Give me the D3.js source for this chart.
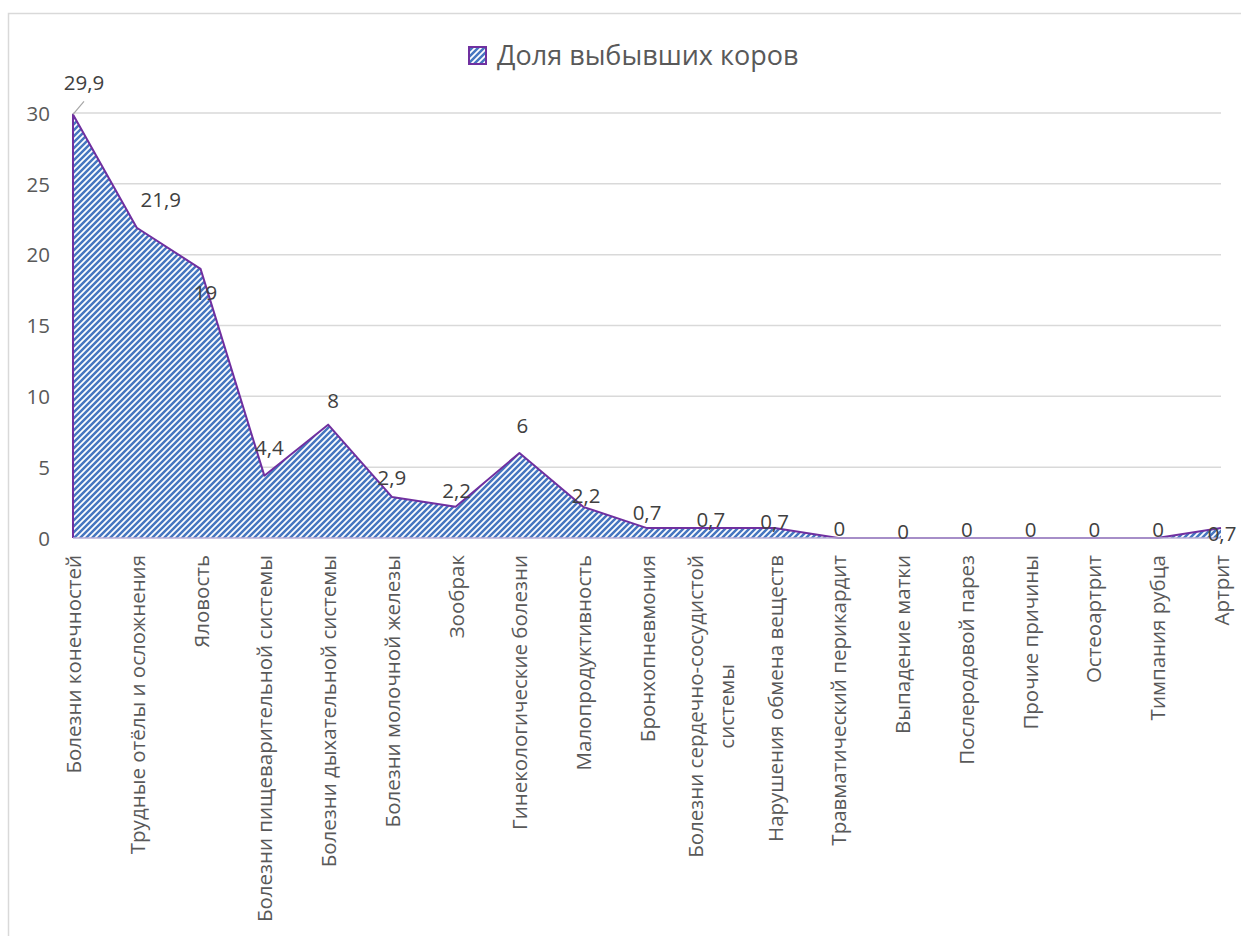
<!DOCTYPE html>
<html lang="ru">
<head>
<meta charset="utf-8">
<script src="https://cdn.jsdelivr.net/npm/d3@7"></script>
<style>
  html, body { margin: 0; padding: 0; background: #fff; }
  svg { display: block; font-family: "Open Sans", "Noto Sans", sans-serif; }
</style>
</head>
<body>
<svg id="chart" width="1241" height="936"></svg>
<script>
// Причины выбытия коров, %
const categories = [
  "Болезни конечностей",
  "Трудные отёлы и осложнения",
  "Яловость",
  "Болезни пищеварительной системы",
  "Болезни дыхательной системы",
  "Болезни молочной железы",
  "Зообрак",
  "Гинекологические болезни",
  "Малопродуктивность",
  "Бронхопневмония",
  "Болезни сердечно-сосудистой системы",
  "Нарушения обмена веществ",
  "Травматический перикардит",
  "Выпадение матки",
  "Послеродовой парез",
  "Прочие причины",
  "Остеоартрит",
  "Тимпания рубца",
  "Артрит"
];
const values = [29.9, 21.9, 19, 4.4, 8, 2.9, 2.2, 6, 2.2, 0.7, 0.7, 0.7, 0, 0, 0, 0, 0, 0, 0.7];
const valueLabels = ["29,9", "21,9", "19", "4,4", "8", "2,9", "2,2", "6", "2,2", "0,7", "0,7", "0,7", "0", "0", "0", "0", "0", "0", "0,7"];
const yTicks = [0, 5, 10, 15, 20, 25, 30];
const seriesName = "Доля выбывших коров";

// label placement relative to the point (dx, dy of baseline centre)
const labelOffsets = [
  [11, -24], [24, -21], [5, 31], [5, -21], [5, -17], [0, -12], [1, -9], [3, -20],
  [3, -4], [0, -8], [0, -1], [0, 1], [1, -2], [1, 1], [1, -1], [1, -1], [1, -1], [1, -1], [1, 13]
];

const svg = d3.select("#chart");
const W = 1241, H = 936;

const x = d3.scalePoint().domain(categories).range([73, 1221]);
const y = d3.scaleLinear().domain([0, 30]).range([538, 113]);

// outer frame
svg.append("rect")
  .attr("x", 8.5).attr("y", 13.5)
  .attr("width", W + 10).attr("height", H + 10)
  .attr("fill", "#fff")
  .attr("stroke", "#d9d9d9").attr("stroke-width", 1.5);

// hatch fill
const P = 6;
const defs = svg.append("defs");
const pat = defs.append("pattern")
  .attr("id", "hatch")
  .attr("patternUnits", "userSpaceOnUse")
  .attr("width", P).attr("height", P);
pat.append("rect").attr("width", P).attr("height", P).attr("fill", "#ffffff");
pat.append("path")
  .attr("d", `M${-P / 4},${P / 4} L${P / 4},${-P / 4} M0,${P} L${P},0 M${P * 0.75},${P * 1.25} L${P * 1.25},${P * 0.75}`)
  .attr("stroke", "#4676c0").attr("stroke-width", 2.5);

// gridlines
svg.append("g")
  .selectAll("line")
  .data(yTicks.filter(d => d > 0))
  .join("line")
  .attr("x1", x.range()[0]).attr("x2", x.range()[1])
  .attr("y1", d => y(d)).attr("y2", d => y(d))
  .attr("stroke", "#d9d9d9").attr("stroke-width", 1.5);

// y tick labels
const yAxis = d3.axisLeft(y).tickValues(yTicks).tickSize(0).tickPadding(0);
const gy = svg.append("g").attr("transform", "translate(50,0)").call(yAxis);
gy.select(".domain").remove();
gy.selectAll("text")
  .attr("font-size", 20.5).attr("fill", "#595959")
  .attr("font-family", "Open Sans, Noto Sans, sans-serif")
  .attr("dy", "0.35em");

// area
const area = d3.area()
  .x((d, i) => x(categories[i]))
  .y0(y(0))
  .y1(d => y(d));
svg.append("path")
  .datum(values)
  .attr("d", area)
  .attr("fill", "url(#hatch)");

// outline: left edge + top line
const outline = d3.line()
  .x(d => x(d[0]))
  .y(d => y(d[1]));
const outlinePts = [[categories[0], 0]].concat(categories.map((c, i) => [c, values[i]]));
svg.append("path")
  .datum(outlinePts)
  .attr("d", outline)
  .attr("fill", "none")
  .attr("stroke", "#7030a0").attr("stroke-width", 2)
  .attr("stroke-linejoin", "round");

// category axis line
svg.append("line")
  .attr("x1", x.range()[0]).attr("x2", x.range()[1])
  .attr("y1", y(0)).attr("y2", y(0))
  .attr("stroke", "#b9aed6").attr("stroke-width", 1.5);

// category labels (rotated, wrapped when long)
const catFont = 20.5;
const maxLabelLen = 385;
const xl = svg.append("g");
categories.forEach((c, i) => {
  const g = xl.append("g")
    .attr("transform", `translate(${x(c)},555) rotate(-90)`);
  const t = g.append("text")
    .attr("text-anchor", "end")
    .attr("font-size", catFont)
    .attr("fill", "#595959")
    .text(c);
  if (t.node().getComputedTextLength() > maxLabelLen) {
    const words = c.split(" ");
    const lines = [];
    let cur = [];
    t.text(null);
    const probe = g.append("text").attr("font-size", catFont);
    words.forEach(w => {
      const test = cur.concat([w]).join(" ");
      probe.text(test);
      if (probe.node().getComputedTextLength() > maxLabelLen && cur.length) {
        lines.push(cur.join(" "));
        cur = [w];
      } else {
        cur.push(w);
      }
    });
    lines.push(cur.join(" "));
    probe.remove();
    // centre every line on the widest one
    const widths = lines.map(l => { t.text(l); return t.node().getComputedTextLength(); });
    const wMax = d3.max(widths);
    t.text(null).attr("text-anchor", "middle");
    const lh = 31;
    lines.forEach((l, k) => {
      t.append("tspan")
        .attr("x", -wMax / 2)
        .attr("y", 8 - (lines.length - 1) * lh / 2 + k * lh)
        .text(l);
    });
  } else {
    t.attr("y", 8);
  }
});

// data labels
const lbl = svg.append("g");
values.forEach((v, i) => {
  const px = x(categories[i]), py = y(v);
  const [dx, dy] = labelOffsets[i];
  lbl.append("text")
    .attr("x", px + dx).attr("y", py + dy)
    .attr("text-anchor", "middle")
    .attr("font-size", 20.5)
    .attr("fill", "#404040")
    .text(valueLabels[i]);
});
// leader line for the first label
svg.append("line")
  .attr("x1", x(categories[0])).attr("y1", y(values[0]))
  .attr("x2", x(categories[0]) + 11).attr("y2", y(values[0]) - 13)
  .attr("stroke", "#a6a6a6").attr("stroke-width", 1.2);

// legend
const lg = svg.append("g").attr("transform", "translate(468,46)");
lg.append("rect")
  .attr("x", 1).attr("y", 1).attr("width", 17).attr("height", 17)
  .attr("fill", "url(#hatch)")
  .attr("stroke", "#7030a0").attr("stroke-width", 2);
lg.append("text")
  .attr("x", 29).attr("y", 19)
  .attr("font-size", 27)
  .attr("fill", "#595959")
  .text(seriesName);
</script>
</body>
</html>
